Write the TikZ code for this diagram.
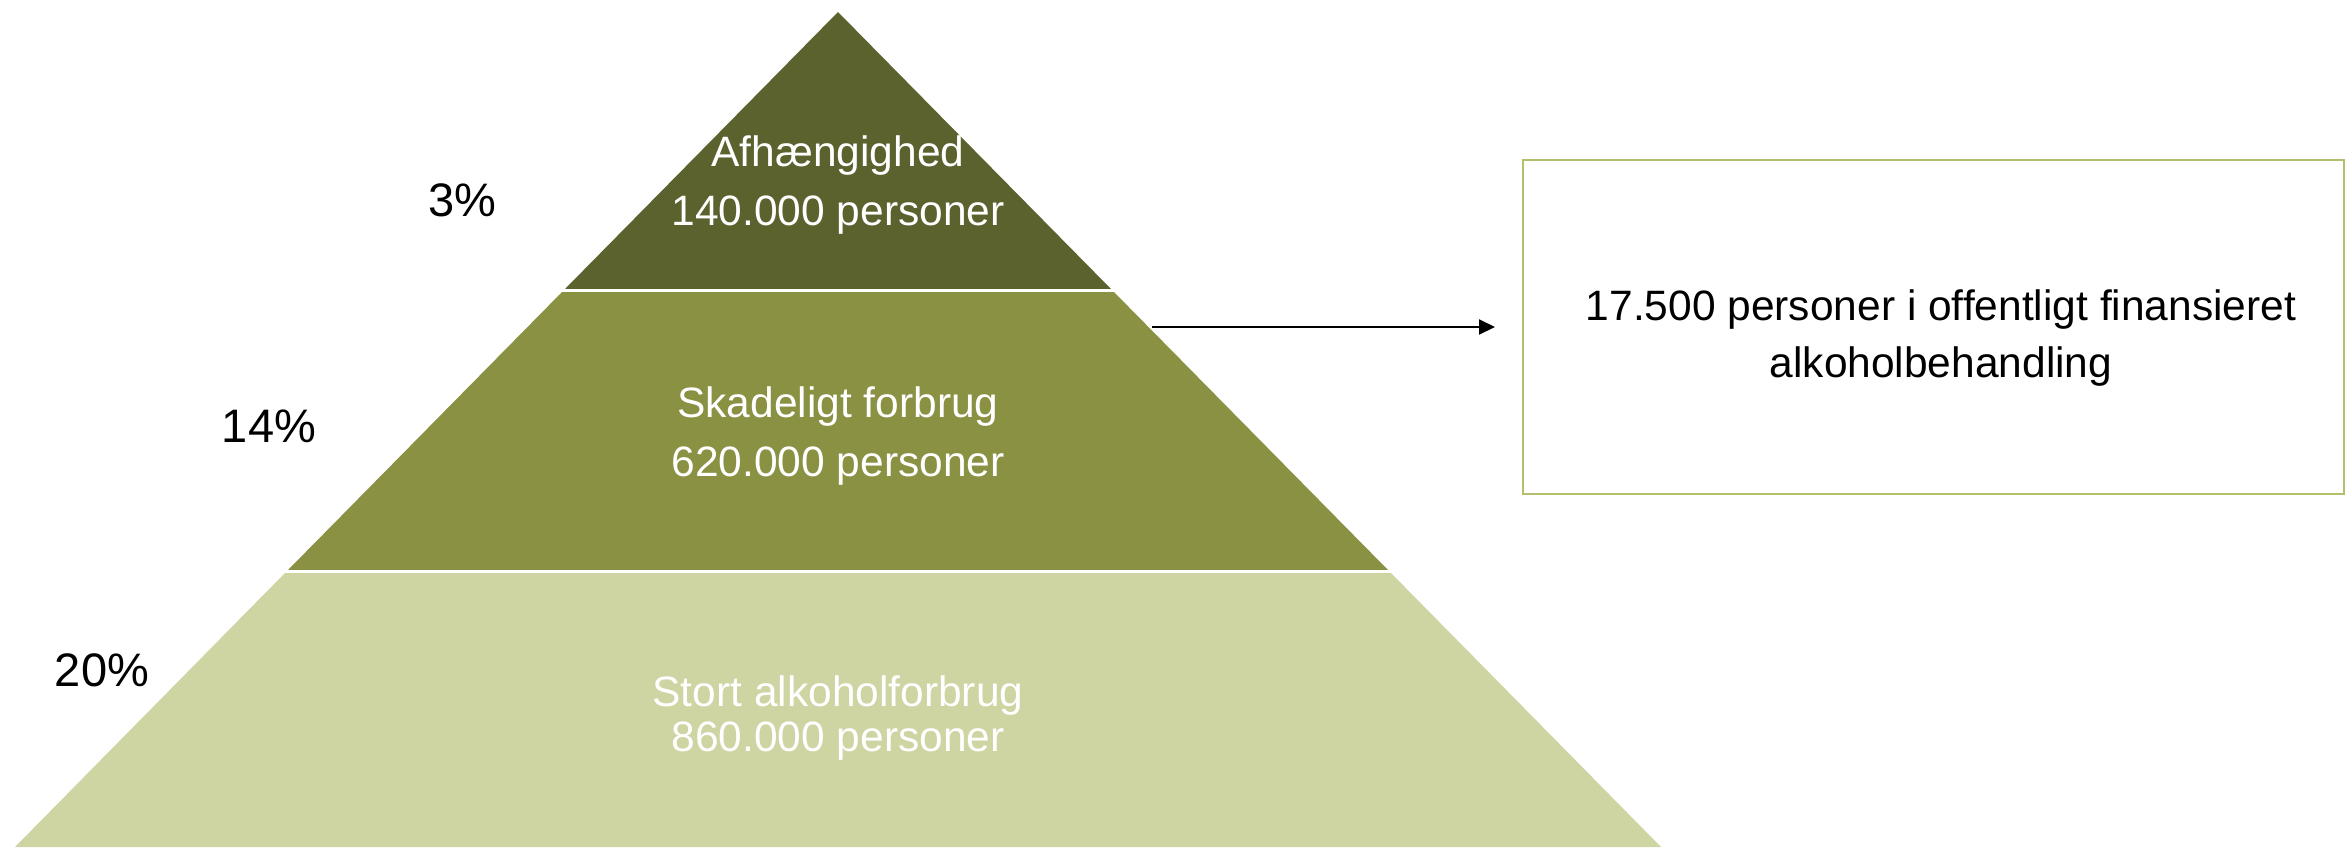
\documentclass[tikz,border=0pt]{standalone}
\usepackage{fontspec}
\setmainfont{Liberation Sans}
\usetikzlibrary{arrows.meta}
\definecolor{topcol}{HTML}{5B622E}
\definecolor{midcol}{HTML}{8A9143}
\definecolor{botcol}{HTML}{CED4A2}
\definecolor{boxcol}{HTML}{B5BE6C}
\begin{document}
\begin{tikzpicture}[x=0.5pt,y=-0.5pt,
  lbl/.style={text=white, align=center, inner sep=0pt, font=\fontsize{21.25}{29.5}\selectfont},
  pct/.style={text=black, inner sep=0pt, font=\fontsize{23.5}{28}\selectfont},
  sep/.style={draw=white, line width=1.5pt},
  infobox/.style={draw=boxcol, line width=1pt, minimum width=410.5pt, minimum height=167pt, inner sep=0pt, align=center, font=\fontsize{21.25}{28.5}\selectfont},
  conn/.style={line width=1pt, -{Triangle[length=8pt,width=7.5pt]}}]
\useasboundingbox (0,0) rectangle (2346,847);
% pyramid layers
\fill[topcol] (838,12) -- (1111,289) -- (565,289) -- cycle;
\fill[midcol] (565,289) -- (1111,289) -- (1388,570) -- (288,570) -- cycle;
\fill[botcol] (288,570) -- (1388,570) -- (1661,847) -- (15,847) -- cycle;
\draw[sep] (550,290.5) -- (1125,290.5);
\draw[sep] (275,571) -- (1400,571);
% layer labels
\node[lbl] (l1) at (838,185) {Afhængighed\\140.000 personer};
\node[lbl] (l2) at (838,436) {Skadeligt forbrug\\620.000 personer};
\node[lbl, font=\fontsize{21.25}{22.5}\selectfont] (l3) at (838,718) {Stort alkoholforbrug\\860.000 personer};
% percentages
\node[pct] (p1) at (462,200.5) {3\%};
\node[pct] (p2) at (269,426.5) {14\%};
\node[pct] (p3) at (102,670.5) {20\%};
% box
\node[infobox] (box) at (1933.5,327) {};
\node[align=center, inner sep=0pt, font=\fontsize{21.25}{28.5}\selectfont] (boxtext) at (1941,338) {17.500 personer i offentligt finansieret\\alkoholbehandling};
\coordinate (astart) at (1152,327);
\draw[conn, shorten >=13.5pt] (astart) -- (box.west);
\end{tikzpicture}
\end{document}
